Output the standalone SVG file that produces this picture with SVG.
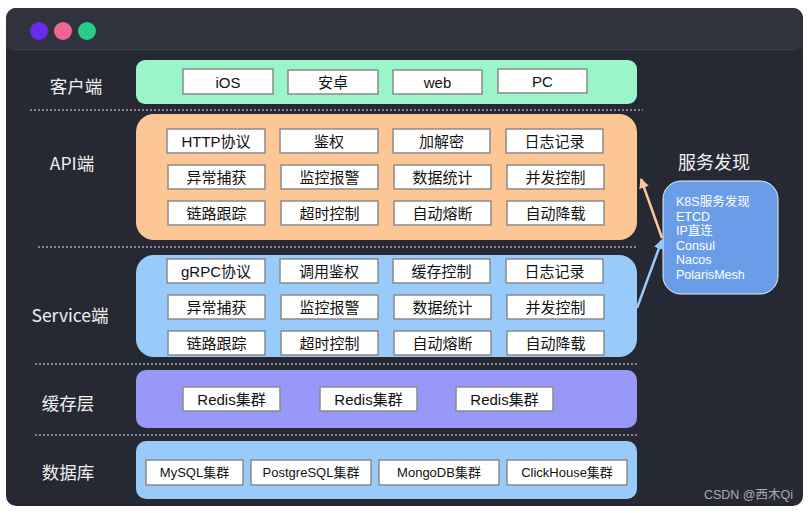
<svg xmlns="http://www.w3.org/2000/svg" width="810" height="513" viewBox="0 0 810 513">
<defs>
<style>
.lbl{font-family:"Noto Sans CJK SC","Liberation Sans",sans-serif;font-size:17.5px;fill:#f0f0f0;text-anchor:middle;dominant-baseline:central}
.it rect{fill:#ffffff;stroke:#8a8a8a;stroke-width:1.5}
.it text{font-family:"Liberation Sans","Noto Sans CJK SC",sans-serif;font-size:15px;fill:#111;text-anchor:middle;dominant-baseline:central}
.sm text{font-size:13px}
.dot{stroke:#a8a8b0;stroke-width:1.5;stroke-dasharray:2 2;fill:none}
.ds{font-family:"Liberation Sans","Noto Sans CJK SC",sans-serif;font-size:12.5px;fill:#ffffff}
</style>
<marker id="ao" markerWidth="10" markerHeight="10" refX="9" refY="5" orient="auto" markerUnits="userSpaceOnUse" viewBox="0 0 10 10">
<path d="M0,0 L10,5 L0,10 z" fill="#fcc795"/>
</marker>
<marker id="ab" markerWidth="10" markerHeight="10" refX="9" refY="5" orient="auto" markerUnits="userSpaceOnUse" viewBox="0 0 10 10">
<path d="M0,0 L10,5 L0,10 z" fill="#99cbfa"/>
</marker>
</defs>
<rect x="0" y="0" width="810" height="513" fill="#ffffff"/>
<g id="window">
<rect x="6" y="8" width="797" height="498" rx="10" fill="#262934"/>
<path d="M6,49 V18 a10,10 0 0 1 10,-10 H793 a10,10 0 0 1 10,10 V49 z" fill="#30333e"/>
<line x1="12" y1="49.5" x2="797" y2="49.5" stroke="#3c3f4a" stroke-width="1"/>
<circle cx="39" cy="31" r="9" fill="#6a2bf0"/>
<circle cx="63" cy="31" r="9" fill="#f06592"/>
<circle cx="87" cy="31" r="9" fill="#27cc8b"/>
</g>
<g id="dividers">
<line class="dot" x1="30" y1="110" x2="643" y2="110"/>
<line class="dot" x1="38" y1="247" x2="637" y2="247"/>
<line class="dot" x1="35" y1="364" x2="637" y2="364"/>
<line class="dot" x1="35" y1="435" x2="637" y2="435"/>
</g>
<g id="client">
<text class="lbl" x="76" y="85">客户端</text>
<rect x="136" y="60" width="501" height="44" rx="9" fill="#9af6c8"/>
<g class="it"><rect x="183" y="69" width="90" height="25"/><text x="228" y="82">iOS</text></g>
<g class="it"><rect x="288" y="70" width="90" height="24"/><text x="333" y="82">安卓</text></g>
<g class="it"><rect x="393" y="70" width="89" height="24"/><text x="437.5" y="82">web</text></g>
<g class="it"><rect x="498" y="69" width="89" height="24"/><text x="542.5" y="81">PC</text></g>
</g>
<g id="api">
<text class="lbl" x="72" y="162">API端</text>
<rect x="136" y="114" width="501" height="126" rx="18" fill="#fcc795"/>
<g class="it"><rect x="167" y="129" width="98" height="24"/><text x="216" y="141">HTTP协议</text></g>
<g class="it"><rect x="280" y="129" width="98" height="24"/><text x="329" y="141">鉴权</text></g>
<g class="it"><rect x="393" y="129" width="97" height="24"/><text x="441.5" y="141">加解密</text></g>
<g class="it"><rect x="506" y="129" width="97" height="24"/><text x="554.5" y="141">日志记录</text></g>
<g class="it"><rect x="168" y="165" width="97" height="24"/><text x="216.5" y="177">异常捕获</text></g>
<g class="it"><rect x="281" y="165" width="97" height="24"/><text x="329.5" y="177">监控报警</text></g>
<g class="it"><rect x="394" y="165" width="97" height="24"/><text x="442.5" y="177">数据统计</text></g>
<g class="it"><rect x="507" y="165" width="97" height="24"/><text x="555.5" y="177">并发控制</text></g>
<g class="it"><rect x="168" y="201" width="97" height="24"/><text x="216.5" y="213">链路跟踪</text></g>
<g class="it"><rect x="281" y="201" width="97" height="24"/><text x="329.5" y="213">超时控制</text></g>
<g class="it"><rect x="394" y="201" width="97" height="24"/><text x="442.5" y="213">自动熔断</text></g>
<g class="it"><rect x="507" y="201" width="97" height="24"/><text x="555.5" y="213">自动降载</text></g>
</g>
<g id="service">
<text class="lbl" x="70" y="314">Service端</text>
<rect x="136" y="255" width="501" height="102" rx="18" fill="#99cbfa"/>
<g class="it"><rect x="167" y="259" width="98" height="24"/><text x="216" y="271">gRPC协议</text></g>
<g class="it"><rect x="280" y="259" width="98" height="24"/><text x="329" y="271">调用鉴权</text></g>
<g class="it"><rect x="393" y="259" width="97" height="24"/><text x="441.5" y="271">缓存控制</text></g>
<g class="it"><rect x="506" y="259" width="97" height="24"/><text x="554.5" y="271">日志记录</text></g>
<g class="it"><rect x="168" y="295" width="97" height="24"/><text x="216.5" y="307">异常捕获</text></g>
<g class="it"><rect x="281" y="295" width="97" height="24"/><text x="329.5" y="307">监控报警</text></g>
<g class="it"><rect x="394" y="295" width="97" height="24"/><text x="442.5" y="307">数据统计</text></g>
<g class="it"><rect x="507" y="295" width="97" height="24"/><text x="555.5" y="307">并发控制</text></g>
<g class="it"><rect x="168" y="331" width="97" height="24"/><text x="216.5" y="343">链路跟踪</text></g>
<g class="it"><rect x="281" y="331" width="97" height="24"/><text x="329.5" y="343">超时控制</text></g>
<g class="it"><rect x="394" y="331" width="97" height="24"/><text x="442.5" y="343">自动熔断</text></g>
<g class="it"><rect x="507" y="331" width="97" height="24"/><text x="555.5" y="343">自动降载</text></g>
</g>
<g id="cache">
<text class="lbl" x="68" y="402">缓存层</text>
<rect x="136" y="370" width="501" height="58" rx="10" fill="#9898f8"/>
<g class="it"><rect x="183" y="387" width="97" height="24"/><text x="231.5" y="399">Redis集群</text></g>
<g class="it"><rect x="320" y="387" width="97" height="24"/><text x="368.5" y="399">Redis集群</text></g>
<g class="it"><rect x="456" y="387" width="97" height="24"/><text x="504.5" y="399">Redis集群</text></g>
</g>
<g id="db">
<text class="lbl" x="68" y="471">数据库</text>
<rect x="136" y="441" width="501" height="58" rx="10" fill="#99cbfa"/>
<g class="it sm"><rect x="146" y="460" width="97" height="25"/><text x="194.5" y="472.5">MySQL集群</text></g>
<g class="it sm"><rect x="251" y="460" width="120" height="25"/><text x="311" y="472.5">PostgreSQL集群</text></g>
<g class="it sm"><rect x="379" y="460" width="120" height="25"/><text x="439" y="472.5">MongoDB集群</text></g>
<g class="it sm"><rect x="507" y="460" width="120" height="25"/><text x="567" y="472.5">ClickHouse集群</text></g>
</g>
<g id="discovery">
<text x="714" y="169" font-family="Noto Sans CJK SC,Liberation Sans,sans-serif" font-size="18" fill="#f0f0f0" text-anchor="middle">服务发现</text>
<rect x="663" y="181" width="115" height="113" rx="18" fill="#6a9de8" stroke="#e8eef8" stroke-width="1"/>
<text class="ds" x="676" y="206">K8S服务发现</text>
<text class="ds" x="676" y="220.5">ETCD</text>
<text class="ds" x="676" y="235">IP直连</text>
<text class="ds" x="676" y="249.5">Consul</text>
<text class="ds" x="676" y="264">Nacos</text>
<text class="ds" x="676" y="278.5">PolarisMesh</text>
</g>
<g id="connectors">
<line x1="662" y1="238" x2="641" y2="179" stroke="#fcc795" stroke-width="2.5" marker-end="url(#ao)"/>
<line x1="637" y1="308" x2="662" y2="240" stroke="#99cbfa" stroke-width="2.5" marker-end="url(#ab)"/>
</g>
<text x="793" y="499" font-family="Liberation Sans,Noto Sans CJK SC,sans-serif" font-size="12.5" fill="#a9a9b0" text-anchor="end">CSDN @西木Qi</text>
</svg>
